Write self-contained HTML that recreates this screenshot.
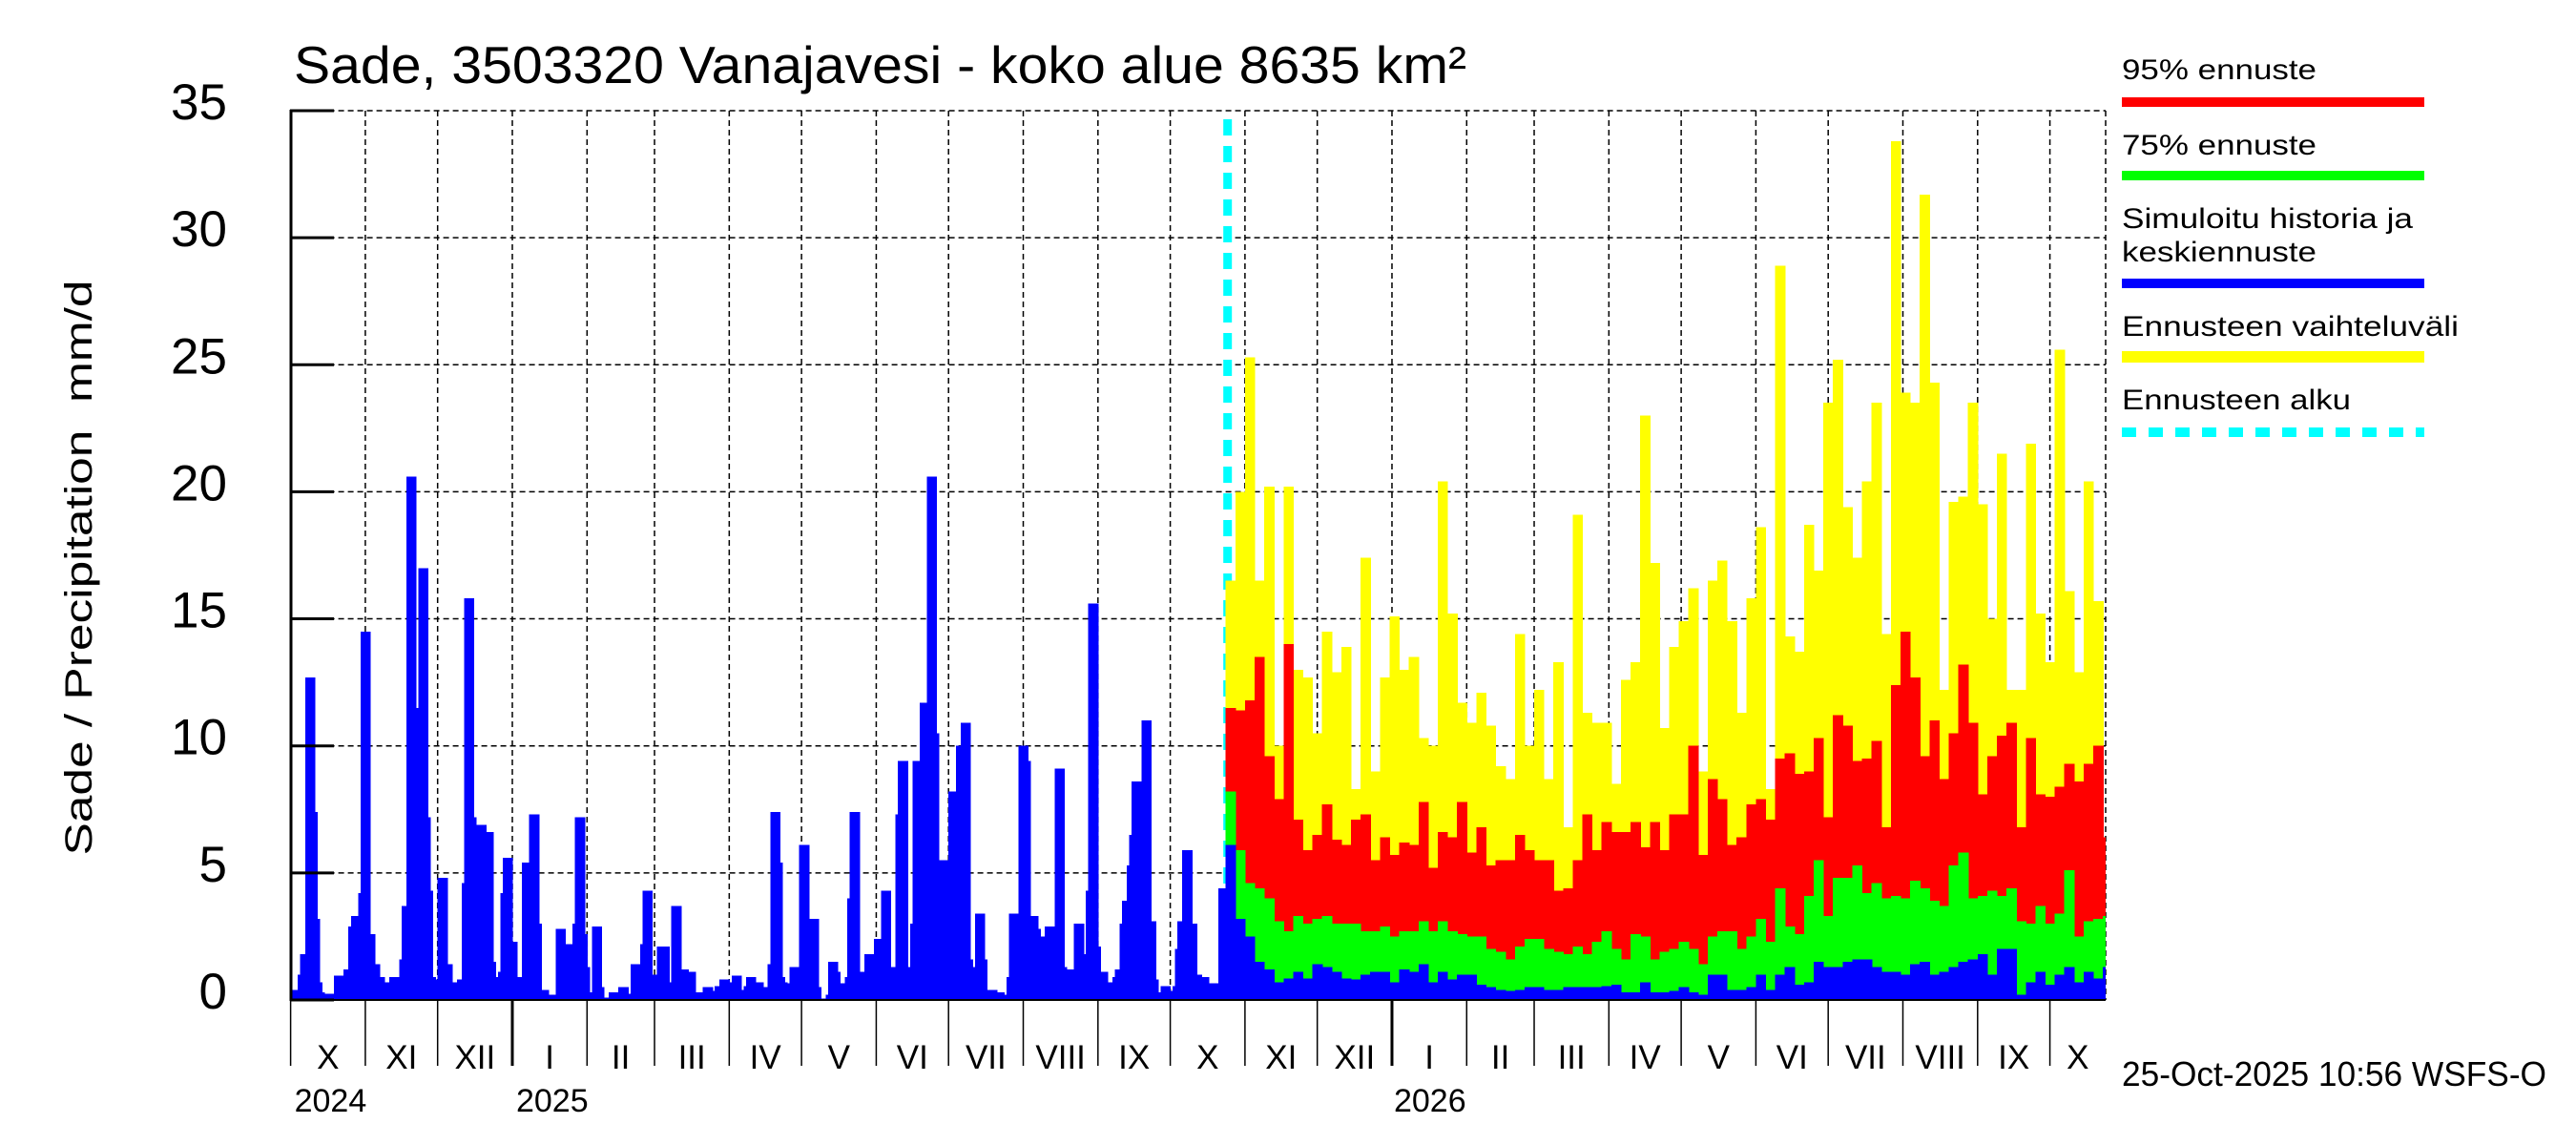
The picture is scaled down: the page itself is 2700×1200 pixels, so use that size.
<!DOCTYPE html>
<html><head><meta charset="utf-8"><style>
html,body{margin:0;padding:0;background:#fff}
svg{display:block}
text{font-family:"Liberation Sans",Arial,sans-serif;fill:#000}
</style></head><body>
<svg id="chart" xmlns="http://www.w3.org/2000/svg" width="2700" height="1200" viewBox="0 0 2700 1200">
<rect x="0" y="0" width="2700" height="1200" fill="#fff"/>
<g id="grid"></g>
<g id="bars" shape-rendering="crispEdges"></g>
<g id="axes"></g>
<text x="308" y="87" font-size="55" textLength="1229" lengthAdjust="spacingAndGlyphs">Sade, 3503320 Vanajavesi - koko alue 8635 km²</text>
<text transform="translate(96,595) rotate(-90)" text-anchor="middle" font-size="40" textLength="603" lengthAdjust="spacingAndGlyphs" style="white-space:pre" xml:space="preserve">Sade / Precipitation  mm/d</text>
<text x="2224" y="1138" font-size="36" textLength="445" lengthAdjust="spacingAndGlyphs">25-Oct-2025 10:56 WSFS-O</text>
<g>
<text x="2224" y="83" font-size="30" textLength="204" lengthAdjust="spacingAndGlyphs">95% ennuste</text>
<rect x="2224" y="102" width="317" height="10" fill="#ff0000"/>
<text x="2224" y="162" font-size="30" textLength="204" lengthAdjust="spacingAndGlyphs">75% ennuste</text>
<rect x="2224" y="179" width="317" height="10" fill="#00ff00"/>
<text x="2224" y="239" font-size="30" textLength="305" lengthAdjust="spacingAndGlyphs">Simuloitu historia ja</text>
<text x="2224" y="274" font-size="30" textLength="204" lengthAdjust="spacingAndGlyphs">keskiennuste</text>
<rect x="2224" y="292" width="317" height="10" fill="#0000ff"/>
<text x="2224" y="352" font-size="30" textLength="353" lengthAdjust="spacingAndGlyphs">Ennusteen vaihteluväli</text>
<rect x="2224" y="368" width="317" height="12" fill="#ffff00"/>
<text x="2224" y="429" font-size="30" textLength="240" lengthAdjust="spacingAndGlyphs">Ennusteen alku</text>
<line x1="2224" y1="453" x2="2541" y2="453" stroke="#00ffff" stroke-width="10" stroke-dasharray="15,13"/>
</g>
</svg>
<script>
// ---- data ----
const history = [
0.4,0.4,0.4,1.0,1.8,1.8,12.7,12.7,12.7,12.7,7.4,3.2,0.7,0.3,0.25,0.25,0.25,0.25,0.95,0.95,0.95,0.95,1.2,1.2,2.9,3.3,3.3,3.3,4.2,14.5,14.5,14.5,14.5,2.6,2.6,1.4,1.4,0.9,0.9,0.7,0.7,0.9,0.9,0.9,0.9,1.6,3.7,3.7,20.6,20.6,20.6,20.6,11.5,17,17,17,17,7.2,4.3,0.9,0.8,4.8,4.8,4.8,4.8,1.4,1.4,0.7,0.7,0.8,0.8,4.6,15.8,15.8,15.8,15.8,7.2,6.9,6.9,6.9,6.9,6.6,6.6,6.6,1.5,0.9,1.1,4.2,5.6,5.6,5.6,5.6,2.3,2.3,0.9,0.9,5.4,5.4,5.4,7.3,7.3,7.3,7.3,3.0,0.4,0.4,0.4,0.2,0.2,0.2,2.8,2.8,2.8,2.8,2.2,2.2,2.2,3.0,7.2,7.2,7.2,7.2,2.6,1.3,0.3,2.9,2.9,2.9,2.9,0.5,0.1,0.1,0.3,0.3,0.3,0.3,0.5,0.5,0.5,0.5,0.25,1.4,1.4,1.4,1.4,2.2,4.3,4.3,4.3,4.3,1.0,1.0,2.1,2.1,2.1,2.1,2.1,0.7,3.7,3.7,3.7,3.7,1.2,1.2,1.2,1.1,1.1,1.1,0.3,0.3,0.3,0.5,0.5,0.5,0.5,0.35,0.55,0.55,0.8,0.8,0.8,0.8,0.7,0.95,0.95,0.95,0.95,0.4,0.55,0.9,0.9,0.9,0.9,0.7,0.7,0.7,
0.5,0.5,1.4,7.4,7.4,7.4,7.4,5.4,0.9,0.7,0.65,1.3,1.3,1.3,1.3,6.1,6.1,6.1,6.1,3.2,3.2,3.2,3.2,0.5,0.05,0.05,0.2,1.5,1.5,1.5,1.5,1.1,0.65,0.65,0.9,4.0,7.4,7.4,7.4,7.4,1.1,1.1,1.8,1.8,1.8,1.8,2.4,2.4,2.4,4.3,4.3,4.3,4.3,1.3,1.3,7.3,9.4,9.4,9.4,9.4,1.3,3.0,9.4,9.4,9.4,11.7,11.7,11.7,20.6,20.6,20.6,20.6,10.5,5.5,5.5,5.5,5.5,8.2,8.2,8.2,10.0,10.0,10.9,10.9,10.9,10.9,1.6,1.3,3.4,3.4,3.4,3.4,1.6,0.4,0.4,0.4,0.4,0.3,0.3,0.3,0.2,0.9,3.4,3.4,3.4,3.4,10.0,10.0,10.0,10.0,9.4,3.3,3.3,3.3,2.8,2.5,2.5,2.9,2.9,2.9,2.9,9.1,9.1,9.1,9.1,1.3,1.2,1.2,1.2,3.0,3.0,3.0,3.0,1.8,4.3,15.6,15.6,15.6,15.6,2.1,1.1,1.1,1.1,0.7,0.7,0.9,1.2,1.2,3.0,3.9,3.9,5.3,6.5,8.6,8.6,8.6,8.6,11.0,11.0,11.0,11.0,3.1,3.1,0.8,0.3,0.55,0.55,0.55,0.55,0.35,0.55,2.0,3.1,3.1,5.9,5.9,5.9,5.9,3.0,3.0,1.0,1.0,0.9,0.9,0.9,0.65,0.65,0.65,0.65,4.4,4.4,4.4
];
const forecastBinDays = 4;
const fcMax = [16.5,20,25.3,16.5,20.2,10,20.2,13,12.7,10.5,14.5,12.9,13.9,8.3,17.4,9,12.7,15.1,13,13.5,10.3,10,20.4,15.2,11.7,10.9,12.1,10.8,9.2,8.7,14.4,10,12.2,8.7,13.3,6.8,19.1,11.3,10.9,10.9,8.5,12.6,13.3,23,17.2,10.7,13.9,
14.9,16.2,9.0,16.5,17.3,14.9,11.3,15.8,18.6,8.3,28.9,14.3,13.7,18.7,16.9,23.5,25.2,19.4,17.4,20.4,23.5,14.4,33.8,23.9,23.5,31.7,24.3,12.2,19.6,19.8,23.5,19.5,15.0,21.5,12.2,12.2,21.9,15.2,13.3,25.6,16.1,12.9,20.4,15.7,6.4];
const fc95 = [11.5,11.4,11.8,13.5,9.6,7.9,14,7.1,5.9,6.5,7.7,6.3,6.1,7.1,7.3,5.5,6.4,5.7,6.2,6.1,7.8,5.2,6.6,6.4,7.8,5.8,6.8,5.3,5.5,5.5,6.5,5.9,5.5,5.5,4.3,4.4,5.5,7.3,5.9,7.0,6.6,6.6,7.0,6.0,7.0,5.9,7.3,
7.3,10.0,5.7,8.7,7.9,6.1,6.4,7.7,7.9,7.1,9.5,9.7,8.9,9.0,10.3,7.2,11.2,10.8,9.4,9.5,10.2,6.8,12.4,14.5,12.7,9.6,11.0,8.7,10.5,13.2,10.9,8.1,9.6,10.4,10.9,6.8,10.3,8.1,8.0,8.4,9.3,8.6,9.3,10.0,6.4];
const fc75 = [8.2,5.9,4.6,4.4,4.0,3.1,2.7,3.3,3.0,3.2,3.3,3.0,3.0,3.0,2.7,2.7,2.9,2.5,2.7,2.7,3.1,2.7,3.1,2.7,2.6,2.5,2.5,2.0,1.9,1.6,2.1,2.4,2.4,2.0,1.9,1.8,2.1,1.8,2.3,2.7,2.0,1.6,2.6,2.5,1.6,1.9,2.0,
2.3,2.0,1.4,2.5,2.7,2.7,2.0,2.5,3.2,2.3,4.4,2.9,2.6,4.1,5.5,3.3,4.8,4.8,5.3,4.2,4.6,4.0,4.1,4.0,4.7,4.4,3.9,3.7,5.3,5.8,4.0,4.1,4.3,4.1,4.4,3.1,3.0,3.7,3.0,3.4,5.1,2.5,3.1,3.2,3.3];
const fcMedian = [6.1,3.2,2.5,1.5,1.2,0.7,0.85,1.1,0.85,1.4,1.3,1.1,0.85,0.8,1.0,1.1,1.1,0.7,1.2,1.1,1.4,0.7,1.1,0.8,1.0,1.0,0.6,0.5,0.4,0.35,0.4,0.5,0.5,0.4,0.4,0.5,0.5,0.5,0.5,0.55,0.6,0.3,0.3,0.7,0.3,0.3,0.35,
0.5,0.3,0.2,1.0,1.0,0.4,0.4,0.5,1.0,0.4,1.0,1.3,0.6,0.7,1.5,1.3,1.3,1.5,1.6,1.6,1.3,1.1,1.1,1.0,1.4,1.5,1.0,1.1,1.3,1.5,1.6,1.8,1.0,2.0,2.0,0.2,0.7,1.1,0.6,1.0,1.3,0.7,1.1,0.85,1.3];
const yTicks = [0,5,10,15,20,25,30,35];
const monthLabels = ["X","XI","XII","I","II","III","IV","V","VI","VII","VIII","IX","X","XI","XII","I","II","III","IV","V","VI","VII","VIII","IX","X"];
const yearLabels = ["2024","2025","2026"];

// ---- scales ----
const X0 = 304.6, PX_PER_DAY = 2.526, XR = 2207;
const Y0 = 1048, PX_PER_UNIT = 26.63, YTOP = 116;
const xOf = d => X0 + d * PX_PER_DAY;
const yOf = v => Y0 - v * PX_PER_UNIT;
const NS = "http://www.w3.org/2000/svg";
function mk(tag, attrs, parent) {
  const e = document.createElementNS(NS, tag);
  for (const k in attrs) e.setAttribute(k, attrs[k]);
  parent.appendChild(e);
  return e;
}
const grid = document.getElementById('grid');
const bars = document.getElementById('bars');
const axes = document.getElementById('axes');

const base = Date.UTC(2024, 9, 1);
const monthStarts = [];
for (let i = 0; i < monthLabels.length; i++) {
  const d = Date.UTC(2024, 9 + i, 1);
  monthStarts.push(Math.round((d - base) / 86400000));
}

yTicks.forEach(v => {
  const l = mk('line', {x1: X0, x2: XR, y1: yOf(v), y2: yOf(v), stroke: '#000', 'stroke-width': 1.5, 'stroke-dasharray': '6,4'}, grid);
  
  
});
monthStarts.slice(1).concat([null]).forEach(d => {
  const x = d === null ? XR : xOf(d);
  const l = mk('line', {x1: x, x2: x, y1: YTOP, y2: Y0, stroke: '#000', 'stroke-width': 1.5, 'stroke-dasharray': '6,4'}, grid);
  
  
});
const fStart = history.length;
const cy = mk('line', {x1: xOf(fStart) + 2, x2: xOf(fStart) + 2, y1: 125, y2: Y0, stroke: '#00ffff', 'stroke-width': 9, 'stroke-dasharray': '17,11'}, grid);



history.forEach((v, i) => {
  const x = xOf(i);
  const r = mk('rect', {x: x, y: yOf(v), width: PX_PER_DAY + 0.6, height: Y0 - yOf(v), fill: '#0000ff'}, bars);
  
  
});
const series = [[fcMax, '#ffff00', 'forecast-range-bar'], [fc95, '#ff0000', 'forecast-95-bar'], [fc75, '#00ff00', 'forecast-75-bar'], [fcMedian, '#0000ff', 'forecast-median-bar']];
series.forEach(([arr, col, nm]) => {
  arr.forEach((v, k) => {
    const d0 = fStart + k * forecastBinDays;
    const x = xOf(d0);
    let w = forecastBinDays * PX_PER_DAY + 0.6;
    if (x + w > XR) w = XR - x;
    if (w <= 0) return;
    const r = mk('rect', {x: x, y: yOf(v), width: w, height: Y0 - yOf(v), fill: col}, bars);
    
    
  });
});

const la = mk('line', {x1: 305, x2: 305, y1: YTOP - 1, y2: Y0 + 1, stroke: '#000', 'stroke-width': 3}, axes);


const ba = mk('line', {x1: 304, x2: XR, y1: Y0, y2: Y0, stroke: '#000', 'stroke-width': 2}, axes);


yTicks.forEach(v => {
  const t = mk('line', {x1: 304, x2: 350, y1: yOf(v), y2: yOf(v), stroke: '#000', 'stroke-width': 3}, axes);
  
  
  const tx = mk('text', {x: 238, y: yOf(v) + 9, 'text-anchor': 'end', 'font-size': 53}, axes);
  tx.textContent = String(v);
  
  
});
monthStarts.forEach((d, i) => {
  const x = xOf(d);
  const isJan = monthLabels[i] === 'I';
  const t = mk('line', {x1: x, x2: x, y1: Y0, y2: 1117, stroke: '#000', 'stroke-width': isJan ? 3 : 1.5}, axes);
  
  
  const next = i + 1 < monthStarts.length ? xOf(monthStarts[i + 1]) : XR;
  const tx = mk('text', {x: (x + next) / 2, y: 1120, 'text-anchor': 'middle', 'font-size': 35}, axes);
  tx.textContent = monthLabels[i];
  
  
});
const yearX = [xOf(monthStarts[0]) + 4, xOf(monthStarts[3]) + 4, xOf(monthStarts[15]) + 2];
yearLabels.forEach((y, i) => {
  const tx = mk('text', {x: yearX[i], y: 1165, 'font-size': 34}, axes);
  tx.textContent = y;
  
  
});
</script>
</body></html>
